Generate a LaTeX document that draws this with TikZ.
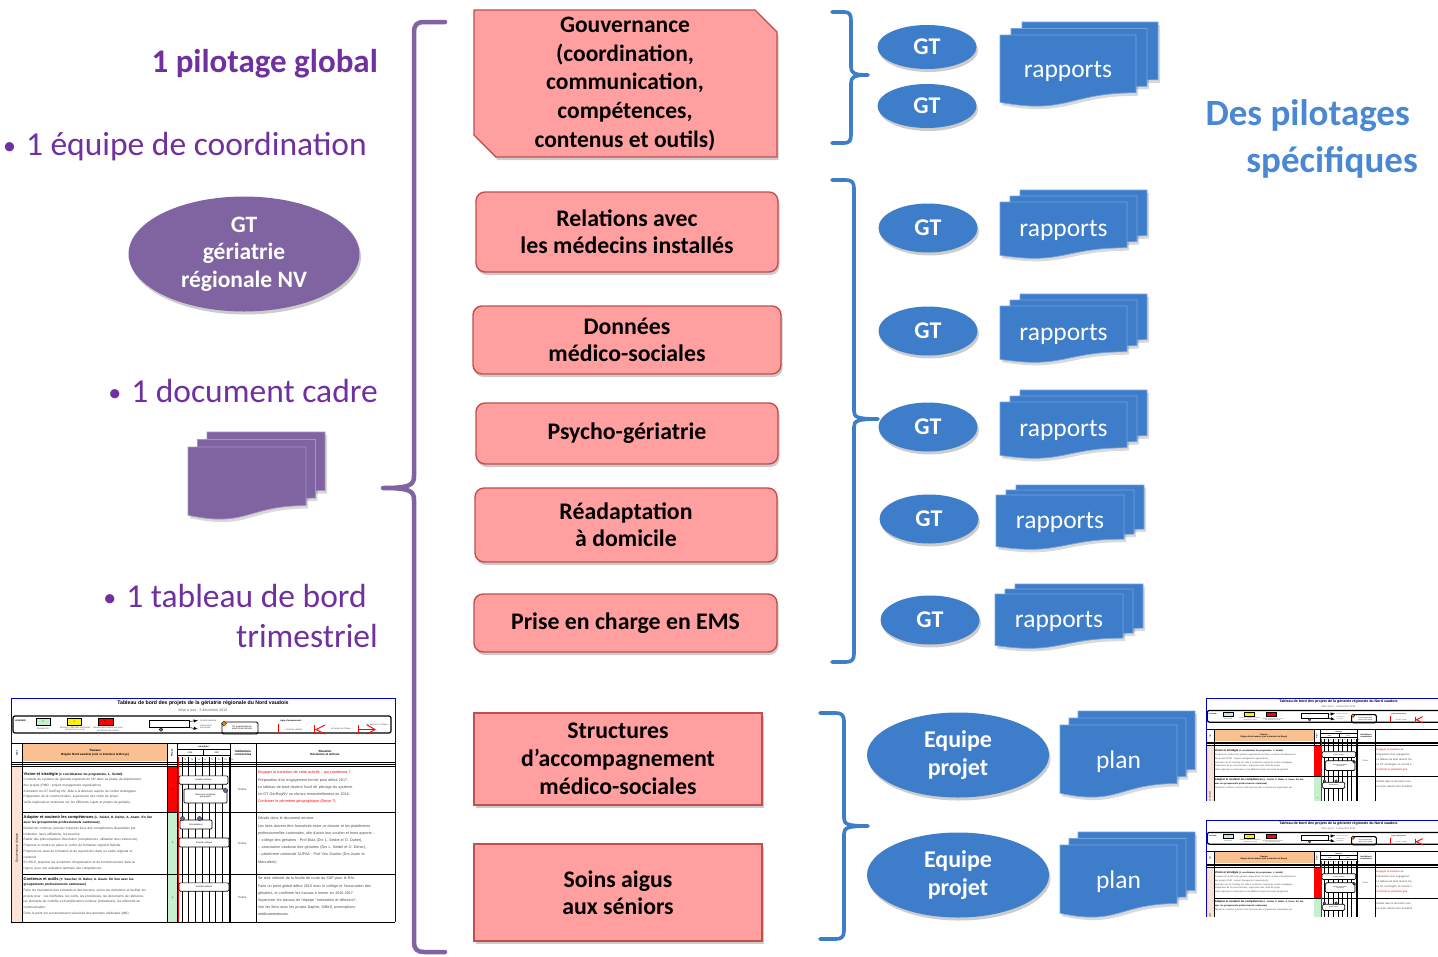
\documentclass[tikz,border=0pt]{standalone}
\usepackage{fontspec}
\setmainfont{Carlito}
\newfontfamily\tabfont{Liberation Sans}
\usetikzlibrary{shapes.geometric,shadows}
\definecolor{purp}{HTML}{8064A2}
\definecolor{purptxt}{HTML}{7030A0}
\definecolor{blu}{HTML}{3D7DCA}
\definecolor{blutxt}{HTML}{4A88D4}
\definecolor{pinkf}{HTML}{FF9F9F}
\definecolor{pinkd}{HTML}{C0504D}
\definecolor{tblue}{HTML}{0000CC}
\definecolor{lgreen}{HTML}{C6EFCE}
\definecolor{orangec}{HTML}{FAC090}
\definecolor{peach}{HTML}{FBE3D6}
\definecolor{tred}{HTML}{FF0000}

\newif\ifthfull
\newcommand\tfA{\tabfont\fontsize{2.2}{2.7}\selectfont}
\newcommand\tfB{\tabfont\fontsize{3}{3.6}\selectfont}
\newcommand\bul{{\fontsize{26}{30}\selectfont\raisebox{1pt}{\textbullet}}\hspace{0.3em}}

\tikzset{
 shd/.style={drop shadow={shadow xshift=1.5pt, shadow yshift=-3pt, opacity=0.2, fill=black}},
 pinkbox/.style={draw=pinkd, line width=1.4pt, fill=pinkf, align=center, inner sep=0pt,
   font=\bfseries\fontsize{23.8}{27}\selectfont, shd},
 gtell/.style={ellipse, fill=blu, text=white, inner sep=0pt, minimum width=99pt, minimum height=49pt,
   font=\bfseries\fontsize{24}{28}\selectfont, shd},
 eqell/.style={ellipse, fill=blu, text=white, inner sep=0pt, minimum width=182pt, minimum height=85pt,
   align=center, font=\bfseries\fontsize{24}{28}\selectfont, shd},
 doctxt/.style={text=white, inner sep=0pt, font=\fontsize{25.5}{30}\selectfont},
 ltxt/.style={anchor=base east, inner sep=0pt, text=purptxt, font=\fontsize{33.5}{40}\selectfont},
 bbrace/.style={draw=blu, line width=3.6pt, line cap=round, line join=round},
 pbrace/.style={draw=purp, line width=4.5pt, line cap=round, line join=round},
 tt/.style={inner sep=0pt},
 tbox/.style={draw=black, fill=white, line width=0.7pt, rounded corners=1.2pt},
}

% document stack: name, x, y, page width, page height, dx, dy, colour, text
\newcommand\docstk[9]{%
 \foreach \k in {2,1,0}{%
  \pgfmathsetmacro\dL{#2+\k*#6}%
  \pgfmathsetmacro\dT{#3+(2-\k)*#7}%
  \pgfmathsetmacro\dR{\dL+#4}%
  \pgfmathsetmacro\dM{\dL+0.5*#4}%
  \pgfmathsetmacro\dA{\dT+0.802*#5}%
  \pgfmathsetmacro\dB{\dT+1.108*#5}%
  \pgfmathsetmacro\dC{\dT+0.934*#5}%
  \fill[black, opacity=0.15, shift={(2,3)}] (\dL,\dT) -- (\dR,\dT) -- (\dR,\dA) .. controls (\dM,\dA) and (\dM,\dB) .. (\dL,\dC) -- cycle;
 }%
 \foreach \k in {2,1,0}{%
  \pgfmathsetmacro\dL{#2+\k*#6}%
  \pgfmathsetmacro\dT{#3+(2-\k)*#7}%
  \pgfmathsetmacro\dR{\dL+#4}%
  \pgfmathsetmacro\dM{\dL+0.5*#4}%
  \pgfmathsetmacro\dA{\dT+0.802*#5}%
  \pgfmathsetmacro\dB{\dT+1.108*#5}%
  \pgfmathsetmacro\dC{\dT+0.934*#5}%
  \path[fill=#8, draw=#8!70!white, line width=0.7pt] (\dL,\dT) -- (\dR,\dT) -- (\dR,\dA) .. controls (\dM,\dA) and (\dM,\dB) .. (\dL,\dC) -- cycle;
 }%
 \pgfmathsetmacro\dX{#2+0.5*#4}%
 \pgfmathsetmacro\dY{#3+2*#7+0.5*#5}%
 \node[doctxt] (#1) at (\dX,\dY) {#9};
}

% thumbnail of the dashboard table, local coordinates 384 x 224
\newcommand\tabthumb[1]{%
 \fill[white] (0,0) rectangle (384,224);
 \draw[tblue, line width=0.9pt] (0,224) -- (0,0) -- (384,0) -- (384,224);
 \node[tt, font=\tabfont\bfseries\fontsize{5.2}{6}\selectfont] (#1ti) at (192,5.5) {Tableau de bord des projets de la gériatrie régionale du Nord vaudois};
 \node[tt, font=\tabfont\fontsize{3.6}{4}\selectfont, text=black!60] (#1mj) at (192,12.3) {Mise à jour : 3 décembre 2015};
 % legend
 \draw[line width=1.2pt, rounded corners=2pt] (2,18) rectangle (380,35);
 \node[tt, font=\tfA\bfseries] (#1lg) at (10,23) {LEGENDE :};
 \draw[fill=lgreen, line width=0.5pt] (25,20.5) rectangle (39,27); \node[tt, font=\tfA] (#1lv) at (32,23.8) {V};
 \draw[fill=yellow, line width=0.5pt] (56,20.5) rectangle (70,27); \node[tt, font=\tfA] (#1lj) at (63,23.8) {J};
 \draw[fill=tred, line width=0.5pt] (87,20.5) rectangle (102,27); \node[tt, font=\tfA] (#1lr) at (94.5,23.8) {R};
 \node[tt, font=\tfA, text=black!70] (#1lva) at (32,30.5) {Situation OK};
 \node[tt, font=\tfA, text=black!70, align=center] (#1lja) at (64,31) {Situation : difficultés maîtrisées\\ (solutions en cours)};
 \node[tt, font=\tfA, text=black!70, align=center] (#1lra) at (97,31) {Situation demandant une prise\\ de décision du comité};
 \draw[line width=0.8pt] (138,22) rectangle (178,29);
 \draw[line width=0.5pt, -latex] (178,23.5) -- (187,22.5);
 \draw[line width=0.5pt, -latex] (175,29) -- (187,31);
 \fill[purp, draw=black, line width=0.3pt] (150,31.5) circle (1.8pt);
 \node[tt, font=\tfA, text=black!70, anchor=west] (#1lb1) at (189,22.5) {Activité courante};
 \node[tt, font=\tfA, text=black!70, anchor=west, align=left] (#1lb2) at (189,29) {Intervention\\ ponctuelle};
 \draw[line width=0.9pt, rounded corners=1.5pt] (211,24) rectangle (247,36);
 \fill[orange, draw=black, line width=0.3pt] (213,23) -- (215.6,25.6) -- (213,28.2) -- (210.4,25.6) -- cycle;
 \node[tt, font=\tfA, align=center] (#1lfin) at (231,30) {Fin programmée du\\ projet ou de l'activité};
 \node[tt, font=\tfA\bfseries] (#1lav) at (280,23) {Ligne d'avancement :};
 \draw[tred, line width=0.9pt] (267,26) -- (267,35);
 \node[tt, font=\tfA, text=black!70] (#1lav1) at (283,31.5) {Continue (stable)};
 \draw[tred, line width=0.9pt] (303,27) -- (303,36);
 \draw[tred, line width=0.9pt] (314,27) -- (305,31.5) -- (314,36);
 \draw[tred, line width=0.9pt] (347,27) -- (347,36);
 \draw[tred, line width=0.9pt] (356,27) -- (364,31.5) -- (356,36);
 \draw[tred, line width=0.9pt] (348,31.5) -- (364,31.5);
 \ifthfull
 \node[tt, font=\tfA, text=black!70] (#1lav2) at (330,31) {En retard sur l'étape};
 \node[tt, font=\tfA, text=black!70] (#1lav3) at (366,27) {En avance sur l'étape};
 \fi
 % header
 \fill[orangec] (12,46) rectangle (156,63);
 \draw[line width=1pt] (0,45) -- (384,45);
 \draw[line width=0.5pt] (0,64) -- (384,64);
 \draw[line width=0.5pt] (0,66) -- (384,66);
 \draw[line width=1pt] (0,68.5) -- (384,68.5);
 \foreach \xx in {11.5,156.5,166,219,245.5}{\draw[line width=0.6pt] (\xx,45) -- (\xx,224);}
 \node[tt, font=\tfA\bfseries, rotate=90] (#1hty) at (6,55) {Type};
 \node[tt, font=\tfB\bfseries, align=center] (#1htr) at (84,55) {Travaux\\ Région Nord vaudois (voir si étendu à la Broye)};
 \node[tt, font=\tfA\bfseries, rotate=90] (#1hri) at (161,55) {Risque};
 \node[tt, font=\tfA\bfseries] (#1hca) at (192.5,48.5) {calendrier};
 \draw[line width=0.4pt] (166,51.5) -- (219,51.5);
 \node[tt, font=\tfA] (#1h16) at (179,54.8) {2016};
 \node[tt, font=\tfA] (#1h17) at (206,54.8) {2017};
 \draw[line width=0.4pt] (166,57.5) -- (219,57.5);
 \draw[line width=0.4pt] (192.5,51.5) -- (192.5,57.5);
 \node[tt, font=\tfB\bfseries, align=center] (#1hin) at (232,55) {Institutions\\ concernées};
 \ifthfull
 \node[tt, font=\tfB\bfseries, align=center] (#1hsi) at (314,55) {Situation\\ Décisions et actions};
 \fi
 % rows
 \fill[peach] (1,69) rectangle (11,224);
 \node[tt, font=\tfB, rotate=90] (#1gc) at (6,150) {Gouvernance clinique};
 \fill[tred] (157,69) rectangle (166,114); \node[tt, font=\tfA] (#1s1) at (161.5,91.5) {R};
 \fill[lgreen] (157,114.5) rectangle (166,176); \node[tt, font=\tfA] (#1s2) at (161.5,145) {V};
 \fill[lgreen] (157,176.5) rectangle (166,224);
 \foreach \yy in {114,176}{\draw[line width=0.8pt] (11.5,\yy) -- (384,\yy);}
 \draw[line width=1pt] (0,224) -- (384,224);
 \foreach \i in {0,...,7}{\draw[line width=0.5pt] ({171+\i*6.7},59) -- ({171+\i*6.7},224);}
 \foreach \i in {0,...,7}{\node[tt, font=\tabfont\fontsize{1.8}{2}\selectfont] at ({174.3+\i*6.7},61.5) {T\pgfmathparse{int(mod(\i,4)+1)}\pgfmathresult};}
 \draw[tred, line width=1.1pt] (167.5,59) -- (167.5,224);
 \node[tbox, minimum width=49pt, minimum height=8pt, font=\tfA] (#1a1) at (192.5,82) {Activité continue};
 \node[tbox, minimum width=43pt, minimum height=14pt, font=\tfA, align=center] (#1a2) at (194.5,98) {Bascule en système\\ permanent};
 \fill[purp, draw=black, line width=0.4pt] (214.5,92.5) circle (2pt);
 \node[tbox, minimum width=32pt, minimum height=9pt, font=\tfA] (#1a3) at (185,126.5) {Présentations};
 \fill[purp, draw=black, line width=0.4pt] (171.5,120.5) circle (2pt);
 \fill[purp, draw=black, line width=0.4pt] (188.5,120.5) circle (2pt);
 \node[tt, font=\tfB, text=black!70] (#1t1) at (231,91) {Toutes};
 \node[anchor=north west, inner sep=0pt, text width=143pt, align=left, text=black!70,
   font=\tabfont\fontsize{3.2}{5.7}\selectfont] (#1r1) at (12.5,74) {%
   {\color{black}\bfseries\fontsize{4}{5.7}\selectfont Vision et stratégie}{\color{black}\bfseries\ (1 coordinateur du programme, L. Seidel)}\\
   Conduite du système de gériatrie régionale du NV dans sa phase de déploiement\\
   des projets (PMO : project management organisation).\\
   Animation du GT GerReg NV. Aide à la décision auprès du comité stratégique.\\
   Préparation de la communication, supervision des chefs de projet.\\
   Veille régionale et cantonale sur les différents sujets et projets de gériatrie.};
 \ifthfull
 \node[tt, font=\tfA] (#1s3) at (161.5,200) {V};
 \node[tbox, minimum width=50pt, minimum height=9pt, font=\tfA] (#1a4) at (193,144.5) {Activité continue};
 \node[tbox, minimum width=50pt, minimum height=8pt, font=\tfA] (#1a5) at (193,189) {Activité continue};
 \node[tt, font=\tfB, text=black!70] (#1t2) at (231,145) {Toutes};
 \node[tt, font=\tfB, text=black!70] (#1t3) at (231,199) {Toutes};
 \node[anchor=north west, inner sep=0pt, text width=143pt, align=left, text=black!70,
   font=\tabfont\fontsize{3.2}{5.7}\selectfont] (#1r2) at (12.5,117) {%
   {\color{black}\bfseries\fontsize{4}{5.7}\selectfont Adapter et soutenir les compétences}{\color{black}\bfseries\ (L. Seidel, O. Daher, A. Asam. En lien}\\
   {\color{black}\bfseries avec les groupements professionnels cantonaux)}\\
   Démarche continue, préciser l'état des lieux des compétences disponibles par\\
   institution, leurs affiliations, les besoins.\\
   Etablir des préconisations d'évolution (compétences, utilisation des ressources).\\
   Proposer et mettre en place le centre de formation régional hybride.\\
   Proposer les axes de formation et de supervision dans un cadre régional et\\
   cantonal.\\
   En 2016, proposer les évolutions d'organisation et de fonctionnement dans la\\
   région, pour une utilisation optimale des compétences.};
 \node[anchor=north west, inner sep=0pt, text width=143pt, align=left, text=black!70,
   font=\tabfont\fontsize{3.2}{5.7}\selectfont] (#1r3) at (12.5,179) {%
   {\color{black}\bfseries\fontsize{4}{5.7}\selectfont Contenus et outils}{\color{black}\bfseries\ (Y. Vaucher, O. Daher, A. Asam. En lien avec les}\\
   {\color{black}\bfseries groupements professionnels cantonaux)}\\
   Faire les inventaires des existants et des besoins, suivre les évolutions et faciliter les\\
   projets pour : les méthodes, les outils, les procédures, les documents de référence,\\
   les éléments de contrôle et d'amélioration continue (indicateurs), les éléments de\\
   communication.\\
   Faire le point sur la transmission sécurisée des données médicales (MN).};
 \node[anchor=north west, inner sep=0pt, text width=137pt, align=left, text=black!70,
   font=\tabfont\fontsize{3.7}{7.2}\selectfont] (#1c1) at (246.8,73) {%
   {\color{tred}Engager la transition de cette activité : qui coordonne ?}\\
   Préparation d'un engagement formel pour début 2017.\\
   Le tableau de bord devient l'outil de pilotage du système.\\
   Le GT GerRegNV se réunira trimestriellement en 2016.\\
   {\color{tred}Confirmer le périmètre géographique (Broye ?).}};
 \node[anchor=north west, inner sep=0pt, text width=137pt, align=left, text=black!70,
   font=\tabfont\fontsize{3.7}{7.2}\selectfont] (#1c2) at (246.8,119) {%
   Détails dans le document annexe.\\
   Les liens doivent être formalisés entre ce dossier et les plateformes\\
   professionnelles cantonales, afin d'avoir leur soutien et leurs apports :\\
   -- collège des gériatres - Prof Büla (Drs L. Seidel et O. Daher),\\
   -- association vaudoise des gériatres (Drs L. Seidel et O. Daher),\\
   -- plateforme cantonale SUPAA - Prof Von Gunten (Drs Asam et\\
   Maccaferri).};
 \node[anchor=north west, inner sep=0pt, text width=137pt, align=left, text=black!70,
   font=\tabfont\fontsize{3.7}{7.2}\selectfont] (#1c3) at (246.8,179) {%
   Se tenir informé de la feuille de route du SSP pour le RAI.\\
   Faire un point global début 2016 avec le collège et l'association des\\
   gériatres, et confirmer les travaux à mener en 2016-2017.\\
   Superviser les travaux de l'équipe "orientation et détection".\\
   Voir les liens avec les projets Daphin, SiBeS, prescriptions\\
   médicamenteuses.};
 \else
 \node[anchor=north west, inner sep=0pt, text width=143pt, align=left, text=black!70,
   font=\tabfont\fontsize{3.2}{5.7}\selectfont] (#1r2) at (12.5,117) {%
   {\color{black}\bfseries\fontsize{4}{5.7}\selectfont Adapter et soutenir les compétences}{\color{black}\bfseries\ (L. Seidel, O. Daher, A. Asam. En lien}\\
   {\color{black}\bfseries avec les groupements professionnels cantonaux)}\\
   Démarche continue, préciser l'état des lieux des compétences disponibles par};
 \node[anchor=north west, inner sep=0pt, text width=137pt, align=left, text=black!70,
   font=\tabfont\fontsize{3.7}{7.2}\selectfont] (#1c1) at (246.8,73) {%
   {\color{tred}Engager la transition de}\\
   Préparation d'un engagemen\\
   Le tableau de bord devient l'ou\\
   Le GT GerRegNV se réunira tr\\
   {\color{tred}Confirmer le périmètre géo}};
 \node[anchor=north west, inner sep=0pt, text width=137pt, align=left, text=black!70,
   font=\tabfont\fontsize{3.7}{7.2}\selectfont] (#1c2) at (246.8,119) {%
   Détails dans le document ann\\
   Les liens doivent être formalisé};
 \fi
}

\begin{document}
\begin{tikzpicture}[x=1pt, y=-1pt]
\useasboundingbox (0,0) rectangle (1438,956);
\fill[white] (0,0) rectangle (1438,956);

% ---------- left column ----------
\node[ltxt, font=\bfseries\fontsize{33}{40}\selectfont] (pil) at (378,72) {1 pilotage global};
\node[ltxt] (equ) at (367,155) {\bul 1 équipe de coordination};
\node[ellipse, fill=purp, text=white, inner sep=0pt, minimum width=231pt, minimum height=115pt,
  align=center, font=\bfseries\fontsize{23.5}{27.5}\selectfont, shd] (gtg) at (244,254) {GT\\gériatrie\\régionale NV};
\node[ltxt] (dcad) at (378,402) {\bul 1 document cadre};
\docstk{doc}{188}{432}{118}{73}{9.5}{7.5}{purp}{}
\node[ltxt] (tab1) at (367,607) {\bul 1 tableau de bord};
\node[ltxt] (tab2) at (378,647) {trimestriel};

\thfulltrue
\begin{scope}[shift={(11,698)}]
 \tabthumb{tl}
\end{scope}

% ---------- big purple brace ----------
\coordinate (pbT) at (445,22);
\coordinate (pbM) at (383,488);
\coordinate (pbB) at (445,952);
\draw[pbrace] (pbT) -- (424,22) .. controls (417,22) and (414,25) .. (414,32) -- (414,476)
  .. controls (414,485) and (410,488) .. (pbM)
  .. controls (410,488) and (414,491) .. (414,500) -- (414,942)
  .. controls (414,949) and (417,952) .. (424,952) -- (pbB);

% ---------- central boxes ----------
\path[draw=pinkd, line width=1.4pt, fill=pinkf, shd] (474,10) -- (755,10) -- (777,32) -- (777,157) -- (496,157) -- (474,135) -- cycle;
\node[align=center, inner sep=0pt, font=\bfseries\fontsize{23.5}{28.6}\selectfont] (gouv) at (625,84)
  {Gouvernance\\(coordination,\\communication,\\compétences,\\contenus et outils)};
\node[pinkbox, rounded corners=9pt, minimum width=302pt, minimum height=80pt] (rel) at (627,232) {Relations avec\\les médecins installés};
\node[pinkbox, rounded corners=9pt, minimum width=308pt, minimum height=68pt] (don) at (627,340) {Données\\médico-sociales};
\node[pinkbox, rounded corners=9pt, minimum width=302pt, minimum height=61pt] (psy) at (627,433.5) {Psycho-gériatrie};
\node[pinkbox, rounded corners=9pt, minimum width=302pt, minimum height=74pt] (rea) at (626,525) {Réadaptation\\à domicile};
\node[pinkbox, rounded corners=9pt, minimum width=303pt, minimum height=58pt] (ems) at (625.5,623) {Prise en charge en EMS};
\node[pinkbox, minimum width=288pt, minimum height=92pt, font=\bfseries\fontsize{23.8}{28}\selectfont] (sam) at (618,759) {Structures\\d’accompagnement\\médico-sociales};
\node[pinkbox, minimum width=288pt, minimum height=97pt] (sai) at (618,892.5) {Soins aigus\\aux séniors};

% ---------- blue braces ----------
\coordinate (b1T) at (832,12);
\coordinate (b1M) at (868,75);
\coordinate (b1B) at (832,143);
\draw[bbrace] (b1T) -- (844,12) .. controls (849,12) and (851,14) .. (851,20) -- (851,67)
  .. controls (851,73) and (854,75) .. (b1M)
  .. controls (854,75) and (851,77) .. (851,83) -- (851,135)
  .. controls (851,141) and (849,143) .. (844,143) -- (b1B);
\coordinate (b2T) at (832,180);
\coordinate (b2M) at (878,419);
\coordinate (b2B) at (832,662);
\draw[bbrace] (b2T) -- (846,180) .. controls (851,180) and (854,182) .. (854,188) -- (854,411)
  .. controls (854,417) and (857,419) .. (b2M)
  .. controls (857,419) and (854,421) .. (854,427) -- (854,654)
  .. controls (854,660) and (851,662) .. (846,662) -- (b2B);
\coordinate (b3T) at (820,713);
\coordinate (b3M) at (868,826);
\coordinate (b3B) at (820,939);
\draw[bbrace] (b3T) -- (836,713) .. controls (841,713) and (844,715) .. (844,721) -- (844,818)
  .. controls (844,824) and (847,826) .. (b3M)
  .. controls (847,826) and (844,828) .. (844,834) -- (844,931)
  .. controls (844,937) and (841,939) .. (836,939) -- (b3B);

% ---------- GT ellipses ----------
\node[gtell, minimum height=44pt] (gt1) at (927,47) {GT};
\node[gtell, minimum height=44pt] (gt2) at (927,106) {GT};
\node[gtell] (gt3) at (928,228) {GT};
\node[gtell] (gt4) at (928,331) {GT};
\node[gtell] (gt5) at (928,427) {GT};
\node[gtell] (gt6) at (929,519) {GT};
\node[gtell] (gt7) at (930,620) {GT};
\node[eqell] (ep1) at (958,755) {Equipe\\projet};
\node[eqell] (ep2) at (958,875) {Equipe\\projet};

% ---------- rapports / plan stacks ----------
\docstk{rap1}{1000}{22}{136}{72}{11}{6.5}{blu}{rapports}
\docstk{rap2}{1000}{190}{127}{57}{10}{6}{blu}{rapports}
\docstk{rap3}{1000}{294}{127}{57}{10}{6}{blu}{rapports}
\docstk{rap4}{1000}{390}{127}{57}{10}{6}{blu}{rapports}
\docstk{rap5}{996}{485}{128}{55}{10}{5}{blu}{rapports}
\docstk{rap6}{995}{584}{128}{55}{10}{5}{blu}{rapports}
\docstk{plan1}{1060}{711}{117}{73}{9}{7}{blu}{plan}
\docstk{plan2}{1060}{832}{117}{73}{9}{6.5}{blu}{plan}

% ---------- right titles ----------
\node[anchor=base east, inner sep=0pt, text=blutxt, font=\bfseries\fontsize{37}{44}\selectfont] (dpa) at (1410,125) {Des pilotages};
\node[anchor=base east, inner sep=0pt, text=blutxt, font=\bfseries\fontsize{37}{44}\selectfont] (dpb) at (1418,172) {spécifiques};

% ---------- right thumbnails ----------
\thfullfalse
\begin{scope}
 \clip (1205,697) rectangle (1438,800);
 \begin{scope}[shift={(1206,698)}, scale=0.69, transform shape]
  \tabthumb{ta}
 \end{scope}
\end{scope}
\begin{scope}
 \clip (1205,819) rectangle (1438,916);
 \begin{scope}[shift={(1206,820)}, scale=0.69, transform shape]
  \tabthumb{tb}
 \end{scope}
\end{scope}
\end{tikzpicture}
\end{document}
